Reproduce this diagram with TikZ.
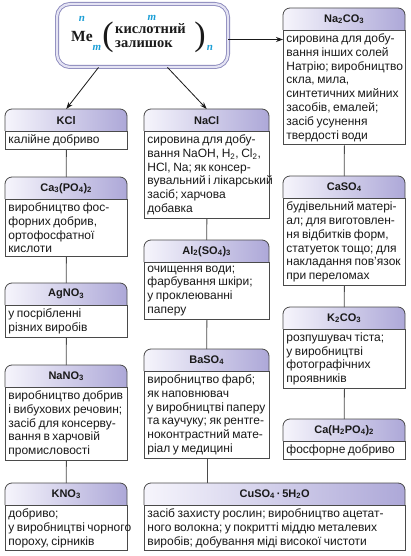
\documentclass[tikz,border=0pt]{standalone}
\usepackage{fontspec}
\setmainfont{Liberation Sans}
\newfontfamily\serifcyr{Liberation Serif}
\usetikzlibrary{arrows.meta}
\hyphenpenalty=10000
\definecolor{hdA}{HTML}{F6F5FC}
\definecolor{hdB}{HTML}{ADA8D8}
\definecolor{edge}{HTML}{4A4A4A}
\definecolor{idx}{HTML}{1C9FD6}
\definecolor{topline}{HTML}{8A88BC}
\definecolor{topband}{HTML}{E4E3F3}
\definecolor{ink}{HTML}{1A1A1A}
\tikzset{
  headshade/.style={left color=hdA, right color=hdB, draw=edge, line width=0.8pt},
  headtext/.style={inner sep=0pt, font=\fontsize{11}{13}\selectfont\bfseries, text=ink},
  bodybox/.style={draw=edge, fill=white, line width=0.8pt, inner xsep=3pt, inner ysep=3.3pt,
    align=left, font=\fontsize{12}{13.8}\selectfont, text=ink},
  conn/.style={draw=edge, line width=0.8pt},
  arr/.style={draw=ink, line width=0.8pt, -{Stealth[length=7pt,width=5pt]}},
  topbox/.style={draw=topline, double=topband, double distance=2.2pt, line width=0.9pt,
    rounded corners=13pt, fill=white, minimum width=171pt, minimum height=63pt},
  frm/.style={inner sep=0pt, font=\serifcyr\fontsize{14.5}{14.5}\selectfont\bfseries, text=ink},
  idxs/.style={inner sep=0pt, font=\serifcyr\fontsize{11}{11}\selectfont\bfseries\itshape, text=idx},
  paren/.style={inner sep=0pt, font=\serifcyr\fontsize{34}{34}\selectfont, text=ink}
}
\newcommand\saltbox[6]{%
  \path[headshade, rounded corners=7pt] (#2,#3+22) -- (#2,#3) -- (#2+#4,#3) -- (#2+#4,#3+22);
  \node[headtext, minimum width=#4pt, minimum height=22pt, anchor=north west] (#1h) at (#2,#3) {#5};
  \pgfmathsetmacro\bw{#4-6}
  \node[bodybox, text width=\bw pt, anchor=north west] (#1b) at (#2,#3+22) {\spaceskip=0.21em\relax #6};
}
\begin{document}
\begin{tikzpicture}[x=1pt,y=-1pt]
\path[fill=white,use as bounding box] (0,0) rectangle (410,556);

% top formula box
\node[topbox] (top) at (142.5,35.5) {};
\node[frm, anchor=base, font=\serifcyr\fontsize{15.5}{15.5}\selectfont\bfseries] (me) at (82,42) {Me};
\node[idxs, anchor=base] (n1) at (82,22) {n};
\node[idxs, anchor=base] (m1) at (97,51) {m};
\node[paren] (lp) at (108,37) {(};
\node[frm, anchor=base west] (k1) at (115,34) {кислотний};
\node[frm, anchor=base west] (k2) at (115,47.5) {залишок};
\node[idxs, anchor=base] (m2) at (152,21) {m};
\node[paren] (rp) at (200,37) {)};
\node[idxs, anchor=base] (n2) at (210,51) {n};

% right column
\saltbox{na2}{283}{8}{122}{Na\textsubscript{2}CO\textsubscript{3}}{сировина~для~добу-\\вання~інших~солей\\Натрію;~виробництво\\скла,~мила,\\синтетичних~мийних\\засобів,~емалей;\\засіб~усунення\\твердості~води}
\saltbox{cas}{283}{176}{122}{CaSO\textsubscript{4}}{будівельний~матері-\\ал;~для~виготовлен-\\ня~відбитків~форм,\\статуеток~тощо;~для\\накладання~пов’язок\\при~переломах}
\saltbox{k2c}{283}{307}{122}{K\textsubscript{2}CO\textsubscript{3}}{розпушувач~тіста;\\у~виробництві\\фотографічних\\проявників}
\saltbox{cah}{283}{419}{122}{Ca(H\textsubscript{2}PO\textsubscript{4})\textsubscript{2}}{фосфорне~добриво}

% left column
\saltbox{kcl}{5}{109}{122}{KCl}{калійне~добриво}
\saltbox{cap}{5}{177}{122}{Ca\textsubscript{3}(PO\textsubscript{4})\textsubscript{2}}{виробництво~фос-\\форних~добрив,\\ортофосфатної\\кислоти}
\saltbox{agn}{5}{283}{122}{AgNO\textsubscript{3}}{у~посрібленні\\різних~виробів}
\saltbox{nan}{5}{365}{122}{NaNO\textsubscript{3}}{виробництво~добрив\\і~вибухових~речовин;\\засіб~для~консерву-\\вання~в~харчовій\\промисловості}
\saltbox{kno}{5}{483}{122}{KNO\textsubscript{3}}{добриво;\\у~виробництві~чорного\\пороху,~сірників}

% middle column
\saltbox{nac}{144}{109}{125}{NaCl}{сировина~для~добу-\\вання~NaOH,~H\textsubscript{2},~Cl\textsubscript{2},\\HCl,~Na;~як~консер-\\вувальний~і~лікарський\\засіб;~харчова\\добавка}
\saltbox{als}{144}{240}{125}{Al\textsubscript{2}(SO\textsubscript{4})\textsubscript{3}}{очищення~води;\\фарбування~шкіри;\\у~проклеюванні\\паперу}
\saltbox{bas}{144}{349}{125}{BaSO\textsubscript{4}}{виробництво~фарб;\\як~наповнювач\\у~виробництві~паперу\\та~каучуку;~як~рентге-\\ноконтрастний~мате-\\ріал~у~медицині}
\saltbox{cus}{144}{483}{261}{CuSO\textsubscript{4}\,·\,5H\textsubscript{2}O}{засіб~захисту~рослин;~виробництво~ацетат-\\ного~волокна;~у~покритті~міддю~металевих\\виробів;~добування~міді~високої~чистоти}

% connectors
\draw[conn] (na2b.south) -- (cash.north);
\draw[conn] (casb.south) -- (k2ch.north);
\draw[conn] (k2cb.south) -- (cahh.north);
\draw[conn] (kclb.south) -- (caph.north);
\draw[conn] (capb.south) -- (agnh.north);
\draw[conn] (agnb.south) -- (nanh.north);
\draw[conn] (nanb.south) -- (knoh.north);
\draw[conn] (nacb.south) -- (alsh.north);
\draw[conn] (alsb.south) -- (bash.north);
\draw[conn] (basb.south) -- (basb.south |- cush.north);

% arrows
\draw[arr] ([xshift=-44pt]top.south) -- (kclh.north);
\draw[arr] ([xshift=25pt]top.south) -- (nach.north);
\draw[arr] ([yshift=-4pt]top.east) -- ([yshift=-4pt]top.east -| na2b.west);
\end{tikzpicture}
\end{document}
